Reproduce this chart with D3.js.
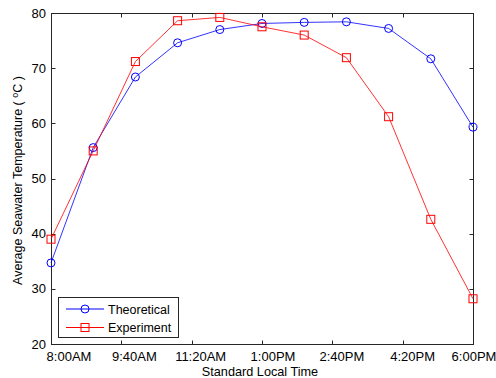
<!DOCTYPE html>
<html><head><meta charset="utf-8">
<script src="https://cdn.jsdelivr.net/npm/d3@7"></script>
<style>body{margin:0;background:#fff}svg{display:block}text{font-family:"Liberation Sans",Arial,sans-serif}</style>
</head><body><svg id="c" width="496" height="378"></svg>
<script>
const times = [480,540,600,660,720,780,840,900,960,1020,1080]; // minutes since midnight
const theoretical = [34.7,55.6,68.4,74.6,77.0,78.1,78.3,78.4,77.2,71.7,59.3];
const experiment = [39.0,55.0,71.2,78.6,79.2,77.5,76.0,71.9,61.2,42.6,28.2];
const xTickValues = [480,580,680,780,880,980,1080];
const xTickLabels = ["8:00AM","9:40AM","11:20AM","1:00PM","2:40PM","4:20PM","6:00PM"];
const yTicks = [20,30,40,50,60,70,80];
const seriesNames = ["Theoretical","Experiment"];

const svg = d3.select("#c");
const L=51, R=473, T=13, B=344;
const x = d3.scaleLinear().domain([480,1080]).range([L,R]);
const y = d3.scaleLinear().domain([20,80]).range([B,T]);
const axisColor="#262626";
// label nudges as rendered in the original figure (layout only)
const xLabelNudge = [18,13,9,11,9.5,10,1];

const g = svg.append("g");
g.append("rect").attr("x",L+0.5).attr("y",T+0.5).attr("width",R-L).attr("height",B-T)
 .attr("fill","none").attr("stroke",axisColor).attr("stroke-width",1);

const tl=4;
xTickValues.forEach((v,i)=>{
  const px=Math.round(x(v))+0.5;
  g.append("line").attr("x1",px).attr("x2",px).attr("y1",B+0.5).attr("y2",B+0.5-tl).attr("stroke",axisColor);
  g.append("line").attr("x1",px).attr("x2",px).attr("y1",T+0.5).attr("y2",T+0.5+tl).attr("stroke",axisColor);
  g.append("text").attr("x",x(v)+xLabelNudge[i]).attr("y",361).attr("text-anchor","middle").attr("font-size",13).attr("fill","#000").text(xTickLabels[i]);
});
yTicks.forEach(v=>{
  const py=Math.round(y(v))+0.5;
  g.append("line").attr("x1",L+0.5).attr("x2",L+0.5+tl).attr("y1",py).attr("y2",py).attr("stroke",axisColor);
  g.append("line").attr("x1",R+0.5).attr("x2",R+0.5-tl).attr("y1",py).attr("y2",py).attr("stroke",axisColor);
  g.append("text").attr("x",L-5).attr("y",y(v)+4.6).attr("text-anchor","end").attr("font-size",13).attr("fill","#000").text(v);
});

g.append("text").attr("x",260).attr("y",376).attr("text-anchor","middle").attr("font-size",12.7).attr("fill","#000").text("Standard Local Time");
const yl = g.append("text").attr("transform",`translate(22,${(T+B)/2+2}) rotate(-90)`).attr("text-anchor","middle").attr("font-size",12.5).attr("fill","#000");
yl.append("tspan").text("Average Seawater Temperature ( ");
yl.append("tspan").attr("font-size",9).attr("dy",-4).text("o");
yl.append("tspan").attr("dy",4).text("C )");

const line = d3.line().x(d=>x(d[0])).y(d=>y(d[1]));
const series = [
  {name:seriesNames[0], vals:theoretical, color:"#0000ff", marker:"circle"},
  {name:seriesNames[1], vals:experiment, color:"#ff0000", marker:"square"}
];
function drawMarker(sel, type, cx, cy, color){
  if(type==="circle") sel.append("circle").attr("cx",cx).attr("cy",cy).attr("r",4).attr("fill","none").attr("stroke",color);
  else sel.append("rect").attr("x",cx-4).attr("y",cy-4).attr("width",8).attr("height",8).attr("fill","none").attr("stroke",color);
}
series.forEach(s=>{
  const data = times.map((t,i)=>[t,s.vals[i]]);
  g.append("path").datum(data).attr("d",line).attr("fill","none").attr("stroke",s.color).attr("stroke-width",1).attr("stroke-opacity",0.8);
  data.forEach(d=>drawMarker(g,s.marker,x(d[0]),y(d[1]),s.color));
});

const lg = g.append("g");
lg.append("rect").attr("x",58.5).attr("y",297.5).attr("width",120).attr("height",40).attr("fill","#fff").attr("stroke",axisColor);
series.forEach((s,i)=>{
  const ly = 309 + i*18.5;
  lg.append("line").attr("x1",66).attr("x2",104).attr("y1",ly).attr("y2",ly).attr("stroke",s.color);
  drawMarker(lg,s.marker,85,ly,s.color);
  lg.append("text").attr("x",108).attr("y",ly+4.5).attr("font-size",12.5).attr("fill","#000").text(s.name);
});
</script></body></html>
